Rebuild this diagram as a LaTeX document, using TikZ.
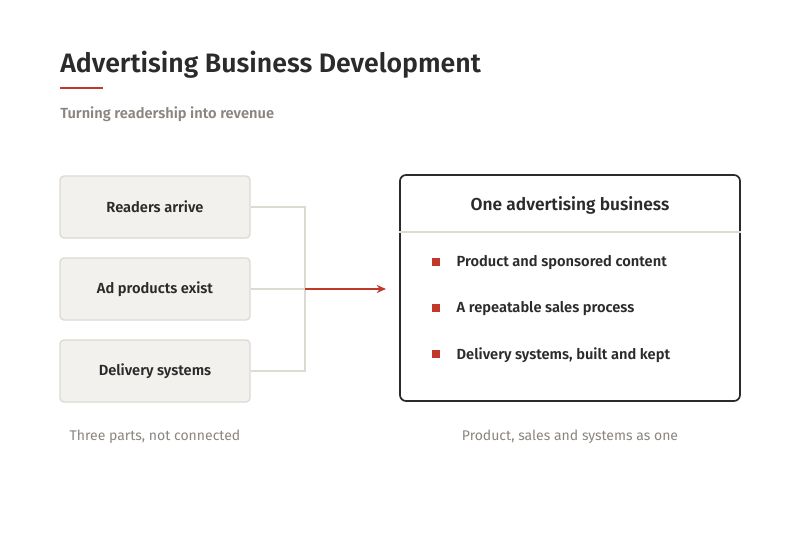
\documentclass[tikz,border=0pt]{standalone}
\usepackage{fontspec}
\setmainfont{Fira Sans}[BoldFont={Fira Sans SemiBold}]
\usepackage{xcolor}
\usetikzlibrary{arrows.meta}
\definecolor{inkdark}{HTML}{2B2B2B}
\definecolor{inkgray}{HTML}{8A8580}
\definecolor{accent}{HTML}{C0392B}
\definecolor{partfill}{HTML}{F3F1EE}
\definecolor{partline}{HTML}{DDD9D3}

\begin{document}
\begin{tikzpicture}[x=0.75pt,y=-0.75pt]
		\tikzstyle{part}=[draw=partline,fill=partfill,line width=1pt,rounded corners=3pt,minimum width=142.5pt,minimum height=46.5pt,font=\fontsize{11}{13}\selectfont\bfseries,text=inkdark]
		\tikzstyle{link}=[draw=partline,line width=1.2pt]
		\tikzstyle{caption}=[font=\fontsize{10.5}{12}\selectfont,text=inkgray]
		\tikzstyle{item}=[anchor=west,font=\fontsize{11}{13}\selectfont\bfseries,text=inkdark]
		\tikzstyle{bullet}=[fill=accent,minimum size=5.5pt,inner sep=0pt]

		\useasboundingbox (0,0) rectangle (800,560);

		% heading
		\node (title) [anchor=west,font=\fontsize{20}{24}\selectfont\bfseries,text=inkdark,inner sep=0pt] at (60,65) {Advertising Business Development};
		\draw [accent,line width=2.2pt] (60,88) -- (103,88);
		\node (subtitle) [anchor=west,font=\fontsize{11}{13}\selectfont\bfseries,text=inkgray,inner sep=0pt] at (60,114) {Turning readership into revenue};

		% three parts
		\node [part] (readers) at (155,207) {Readers arrive};
		\node [part] (products) at (155,289) {Ad products exist};
		\node [part] (delivery) at (155,371) {Delivery systems};
		\coordinate (join) at (305,289);
		\coordinate (goal) at (386,289);

		\draw [link] (readers.east) -| (join);
		\draw [link] (delivery.east) -| (join);
		\draw [link] (products.east) -- (join);
		\draw [accent,line width=1.2pt,-{Stealth[length=7pt,width=6pt,open]}] (join) -- (goal);

		% one business
		\node (business) [draw=inkdark,line width=1.3pt,rounded corners=4.5pt,minimum width=255pt,minimum height=169.5pt] at (570,288) {};
		\node (head) [font=\fontsize{13}{15}\selectfont\bfseries,text=inkdark] at (570,205) {One advertising business};
		\draw [partline,line width=1.2pt] (business.west |- 0,232) -- (business.east |- 0,232);

		\foreach \y/\txt in {263/Product and sponsored content,309/A repeatable sales process,355/{Delivery systems, built and kept}} {
			\node [bullet] at (436,\y-1) {};
			\node [item] at (452,\y) {\txt};
		}

		% captions
		\node (leftcap) [caption] at (155,437) {Three parts, not connected};
		\node (rightcap) [caption] at (570,437) {Product, sales and systems as one};
	\end{tikzpicture}
\end{document}
